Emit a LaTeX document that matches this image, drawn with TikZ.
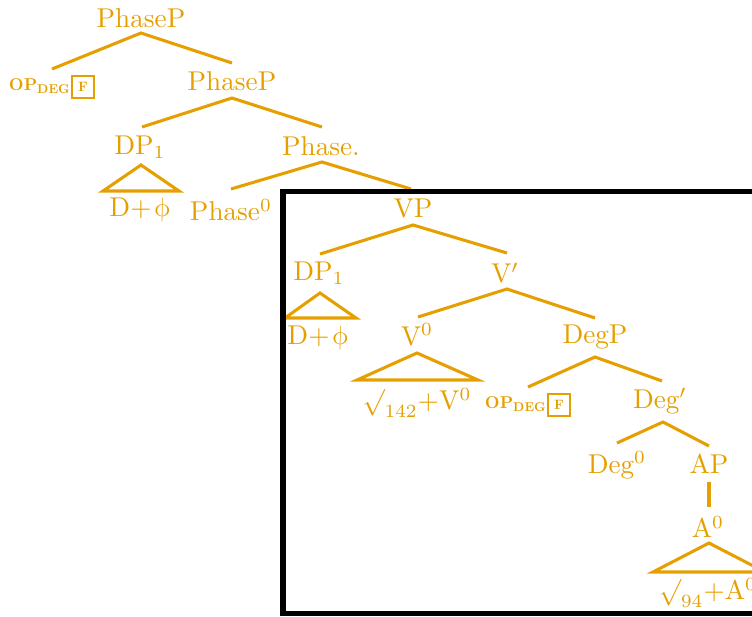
\documentclass[tikz,border=0pt]{standalone}
\usepackage{graphicx}
\usetikzlibrary{calc}
\definecolor{treeorange}{HTML}{E69F00}
\newsavebox{\uphibox}
\sbox{\uphibox}{\tikz[baseline=(p.base)]\node[inner sep=0pt,text=treeorange,xslant=-0.22,transform shape](p){$\phi$};}
\newcommand{\uphi}{\usebox{\uphibox}}
\begin{document}
\begin{tikzpicture}[x=0.375pt,y=-0.375pt,
  lab/.style={text=treeorange,inner sep=0pt,font=\fontsize{10.2}{12}\selectfont},
  br/.style={draw=treeorange,line width=1.15pt},
  frame/.style={draw=black,line width=1.9pt}]
\clip (0,0) rectangle (752,616);
\fboxsep=1.9pt \fboxrule=0.75pt
\newcommand{\opdeg}{\scalebox{0.63}{\bfseries OP}\raisebox{-1.35pt}{\scalebox{0.47}{\bfseries DEG}}\kern0.5pt\raisebox{-0.6pt}{\color{treeorange}\fbox{\scalebox{0.5}{\bfseries F}}}}
% nodes
\node[lab] (PP1) at (141,18) {PhaseP};
\node[lab] (op1) at (52,87) {\opdeg};
\node[lab] (PP2) at (232,81) {PhaseP};
\node[lab] (DP1) at (140,147) {DP$_1$};
\node[lab] (Dphi1) at (141,210) {D+\uphi};
\node[lab] (Phb) at (321,146) {Phase.};
\node[lab] (Ph0) at (231,210) {Phase$^0$};
\node[lab] (VP) at (413,209) {VP};
\node[lab] (DP2) at (319,273) {DP$_1$};
\node[lab] (Dphi2) at (319,338) {D+\uphi};
\node[lab] (Vb) at (505,273) {V$'$};
\node[lab] (V0) at (417,335) {V$^0$};
\node[lab] (sq1) at (417,403) {$\surd_{142}$+V$^0$};
\node[lab] (DegP) at (595,337) {DegP};
\node[lab] (op2) at (528,405) {\opdeg};
\node[lab] (Degb) at (660,401) {Deg$'$};
\node[lab] (Deg0) at (617,465) {Deg$^0$};
\node[lab] (AP) at (709,464) {AP};
\node[lab] (A0) at (708,527) {A$^0$};
\node[lab] (sq2) at (708,593) {$\surd_{94}$+A$^0$};
% branches
\draw[br] ($(op1)+(0,-18)$) -- ($(PP1)+(0,15)$) -- ($(PP2)+(0,-18)$);
\draw[br] ($(DP1)+(2,-20)$) -- ($(PP2)+(0,17)$) -- ($(Phb)+(1,-19)$);
\draw[br] ($(Ph0)+(0,-21)$) -- ($(Phb)+(1,16)$) -- ($(VP)+(-2,-20)$);
\draw[br] ($(DP2)+(1,-19)$) -- ($(VP)+(0,16)$) -- ($(Vb)+(2,-20)$);
\draw[br] ($(V0)+(1,-18)$) -- ($(Vb)+(2,16)$) -- ($(DegP)+(0,-19)$);
\draw[br] ($(op2)+(0,-18)$) -- ($(DegP)+(0,20)$) -- ($(Degb)+(2,-20)$);
\draw[br] ($(Deg0)+(0,-22)$) -- ($(Degb)+(3,21)$) -- ($(AP)+(0,-18)$);
\draw[br] ($(AP)+(0,18)$) -- ($(A0)+(1,-20)$);
% triangles
\draw[br] ($(DP1)+(1,18)$) -- ($(Dphi1)+(-38,-19)$) -- ($(Dphi1)+(38,-19)$) -- cycle;
\draw[br] ($(DP2)+(1,20)$) -- ($(Dphi2)+(-34,-20)$) -- ($(Dphi2)+(37,-20)$) -- cycle;
\draw[br] ($(V0)+(0,18)$) -- ($(sq1)+(-60,-23)$) -- ($(sq1)+(61,-23)$) -- cycle;
\draw[br] ($(A0)+(1,16)$) -- ($(sq2)+(-55,-21)$) -- ($(sq2)+(57,-21)$) -- cycle;
% frame
\draw[frame] (800,191.5) -- (283,191.5) -- (283,613.5) -- (800,613.5);
\end{tikzpicture}
\end{document}
